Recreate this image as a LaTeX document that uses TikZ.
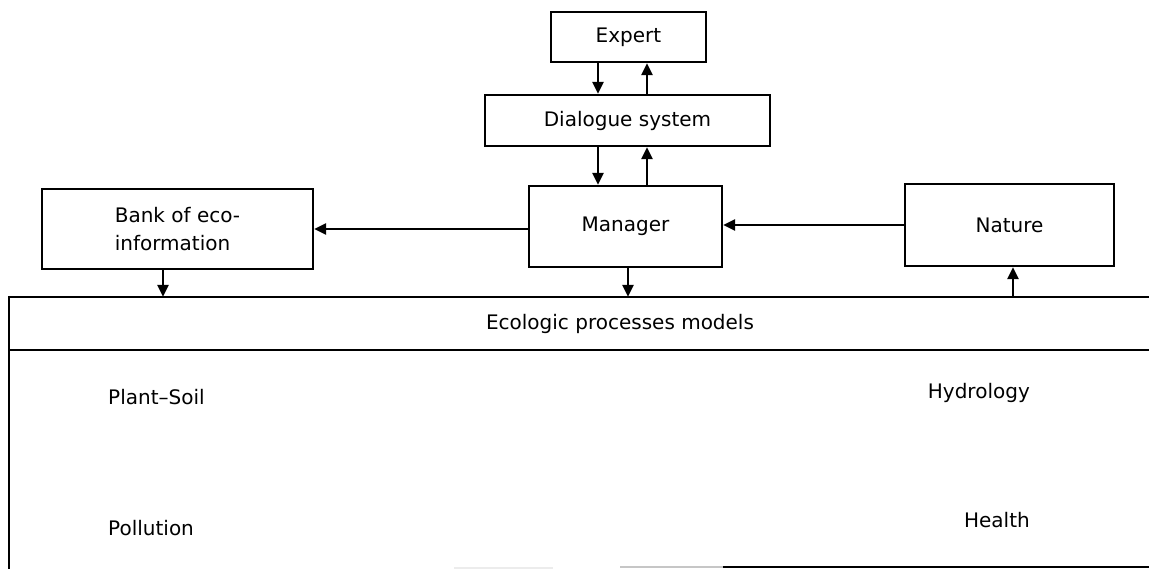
\documentclass[tikz,border=0pt]{standalone}
\usepackage{fontspec}
\setmainfont{DejaVu Sans}
\usetikzlibrary{arrows.meta,calc}
\begin{document}
\begin{tikzpicture}[x=1pt,y=-1pt,
  lbl/.style={font=\fontsize{20}{28}\selectfont,inner sep=0pt},
  box/.style={lbl,draw,line width=2.3pt},
  arr/.style={line width=2.4pt,-{Triangle[length=12pt,width=11pt]}},
  edge/.style={line width=2.3pt}]
\useasboundingbox (0,0) rectangle (1149,569);
% boxes
\node[box,minimum width=155,minimum height=50] (expert) at (628.5,37) {Expert};
\node[box,minimum width=285,minimum height=51] (dlg) at (627.5,120.5) {Dialogue system};
\node[box,minimum width=193,minimum height=81] (manager) at (625.5,226.5) {Manager};
\node[box,minimum width=271,minimum height=80,align=left] (bank) at (177.5,229) {Bank of eco-\\information};
\node[box,minimum width=209,minimum height=82] (nature) at (1009.5,225) {Nature};
% ecologic band
\node[lbl,minimum height=53] (eco) at (620,323.5) {Ecologic processes models};
\draw[edge] (9,297) -- (1149,297);
\draw[edge] (9,350) -- (1149,350);
\draw[edge] (9,296) -- (9,569);
\draw[edge] (723,567) -- (1149,567);
\draw[line width=1.5pt,gray!45] (620,567) -- (723,567);
\draw[line width=1.5pt,gray!15] (454,568) -- (553,568);
% inner labels
\node[lbl,anchor=west] (plant) at (108,397) {Plant–Soil};
\node[lbl,anchor=west] (poll) at (108,528) {Pollution};
\node[lbl,anchor=east] (hydro) at (1030,393) {Hydrology};
\node[lbl,anchor=east] (health) at (1030,520) {Health};
% x positions for vertical connectors
\coordinate (xa) at (598,0);
\coordinate (xb) at (647,0);
\coordinate (xm) at (628,0);
\coordinate (xk) at (163,0);
\coordinate (xn) at (1013,0);
% connectors
\draw[arr] (expert.south -| xa) -- (dlg.north -| xa);
\draw[arr] (dlg.north -| xb) -- (expert.south -| xb);
\draw[arr] (dlg.south -| xa) -- (manager.north -| xa);
\draw[arr] (manager.north -| xb) -- (dlg.south -| xb);
\draw[arr] (manager.west |- bank.east) -- (bank.east);
\draw[arr] (nature.west) -- (nature.west -| manager.east);
\draw[arr] (bank.south -| xk) -- (eco.north -| xk);
\draw[arr] (manager.south -| xm) -- (eco.north -| xm);
\draw[arr] (eco.north -| xn) -- (nature.south -| xn);
\end{tikzpicture}
\end{document}
